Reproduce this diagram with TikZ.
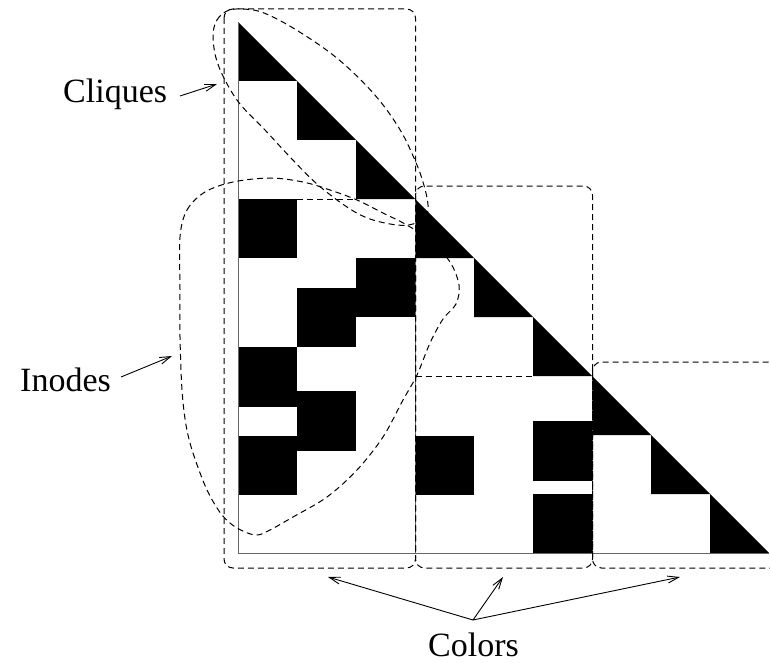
\documentclass[tikz,border=0pt]{standalone}
\usepackage{fontspec}
\setmainfont{Liberation Serif}
\usetikzlibrary{arrows.meta}
\begin{document}
\begin{tikzpicture}[x=1pt,y=-1pt,
  blk/.style={fill=black,draw=none},
  edgeline/.style={draw=black!60,line width=1pt},
  dsh/.style={draw=black,line width=1pt,dash pattern=on 6pt off 4pt},
  colorbox/.style={dsh,rounded corners=9pt},
  lbl/.style={font=\fontsize{34}{40}\selectfont,inner sep=0pt,anchor=base west},
  arr/.style={draw=black,line width=0.9pt,-{Straight Barb[length=11pt,width=7pt]}}]
\path[use as bounding box] (0,0) rectangle (770,663);
\clip (0,0) rectangle (770,663);
\fill[white] (0,0) rectangle (770,663);
% diagonal triangles
\foreach \i in {0,...,8}{
  \fill[blk] ({238+59*\i},{22+59*\i}) -- ({238+59*\i},{81+59*\i}) -- ({297+59*\i},{81+59*\i}) -- cycle;
}
% off-diagonal blocks
\fill[blk] (238,199) rectangle (297,258);
\fill[blk] (356,258) rectangle (415,317);
\fill[blk] (297,288) rectangle (356,347);
\fill[blk] (238,347) rectangle (297,407);
\fill[blk] (297,391) rectangle (356,451);
\fill[blk] (238,436) rectangle (297,495);
\fill[blk] (415,436) rectangle (474,495);
\fill[blk] (533,421) rectangle (592,481);
\fill[blk] (533,494) rectangle (592,553);
% matrix outlines
\draw[edgeline] (238,22) -- (238,553) -- (769,553);
\draw[edgeline] (415.5,199) -- (415.5,553);
\draw[edgeline] (592.5,376) -- (592.5,553);
% clique / inode separators
\draw[dsh] (297,199.5) -- (356,199.5);
\draw[dsh] (415.5,376.5) -- (533,376.5);
% cliques blob
\draw[dsh] plot[smooth cycle, tension=0.6] coordinates {
 (213,35) (217,20) (227,11) (242,9) (264,13) (298,31) (338,59) (374,94)
 (399,128) (414,158) (423,182) (428,205) (425,218) (413,224) (397,225)
 (370,219) (347,207) (317,184) (290,157) (265,130) (240,104) (225,80) (216,58)};
% inodes blob
\draw[dsh] plot[smooth cycle, tension=0.55] coordinates {
 (180,237) (187,210) (205,192) (233,182) (270,178) (303,182) (330,190)
 (357,200) (383,213) (405,224) (430,240) (450,262) (459,285) (456,304)
 (443,319) (430,343) (417,375) (403,400) (383,437) (357,470) (327,497)
 (293,517) (268,531) (255,535) (237,528) (222,515) (207,490) (193,453)
 (186,425) (182,390) (180,337) (180,290)};
% colour boxes
\draw[colorbox] (224,9) rectangle (415.5,568);
\draw[colorbox] (415.5,186) rectangle (592.5,568);
\draw[colorbox] (592.5,362) rectangle (800,568);
% labels
\node[lbl] (cliques) at (63,103) {Cliques};
\node[lbl] (inodes) at (20,391) {Inodes};
\node[lbl] (colors) at (428,656) {Colors};
\coordinate (cliquesTail) at (180,96);
\coordinate (cliquesTip) at (217,84);
\coordinate (inodesTail) at (121,377);
\coordinate (inodesTip) at (172,356);
\coordinate (colorsTail) at (473,620);
\coordinate (colorTipA) at (328,577);
\coordinate (colorTipB) at (503,577);
\coordinate (colorTipC) at (680,577);
\draw[arr] (cliquesTail) -- (cliquesTip);
\draw[arr] (inodesTail) -- (inodesTip);
\draw[arr] (colorsTail) -- (colorTipA);
\draw[arr] (colorsTail) -- (colorTipB);
\draw[arr] (colorsTail) -- (colorTipC);
\end{tikzpicture}
\end{document}
